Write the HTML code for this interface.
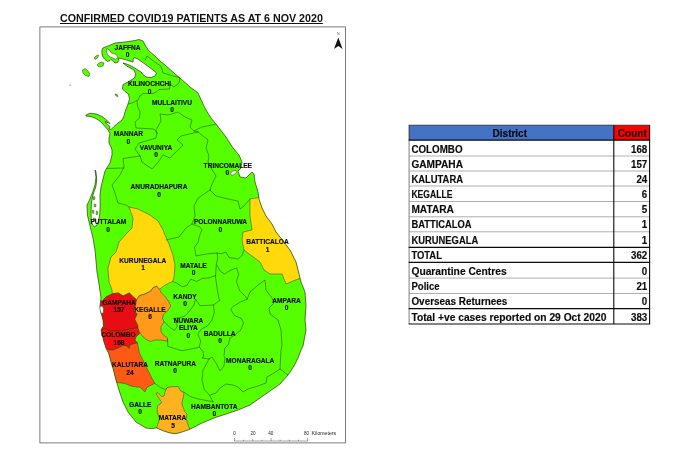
<!DOCTYPE html>
<html><head><meta charset="utf-8"><title>Confirmed COVID19 patients</title>
<style>
html,body{margin:0;padding:0;background:#fff;}
body{width:700px;height:450px;position:relative;overflow:hidden;font-family:"Liberation Sans",sans-serif;}
#title{will-change:transform;position:absolute;left:60px;top:11.5px;font-size:10.7px;font-weight:bold;color:#111;white-space:nowrap;text-decoration:underline;text-decoration-thickness:1px;text-underline-offset:1.2px;line-height:12px;}
</style></head><body>

<svg width="700" height="450" viewBox="0 0 700 450" style="position:absolute;left:0;top:0;will-change:transform">
<defs><clipPath id="land"><path d="M102.8,48 L108,46 L115,43 L125,42 L135,40.5 L139,39.5 L143,41 L145,45 L149,51 L155,56 L160,61 L165,65 L174,73 L180,78 L190,87 L198,93 L203,104 L206,110 L211,118 L216,124 L226,137 L233,148 L239,155 L242,162 L241,168 L238,171 L240,177 L246,178 L250,174 L252,172 L254,174 L255,182 L258,192 L259,199 L262,208 L266,216 L272,224 L276,232 L284,242 L290,250 L296,262 L299,274 L301,282 L305,292 L306,306 L305,320 L306,330 L303,346 L301,350 L298,358 L294,366 L288,375 L280,384 L270,391 L260,398 L250,405 L238,410 L226,414 L214,418 L202,423 L189.9,429.2 L183.4,431.6 L176.1,433.7 L170,433 L163.1,430.8 L156.6,427.9 L151,428.6 L146,428 L136,422 L128,412 L123,402 L119,390 L115.7,379 L112.9,368 L111.5,364 L110,358 L108.5,353 L106,348 L104,342 L102.5,336 L101,330 L103.5,326 L103,320 L102,316 L101,313 L100,306 L101,298 L99,284 L97,272 L95,250 L93,238 L90,226 L87.4,215 L87,205 L90,199 L93,191 L95,185 L96,177 L95,170 L96,172 L96.7,180 L95.8,187 L93.5,193 L91.5,202 L91,212 L91.3,220 L92.5,225 L94.5,226.8 L97,225 L98.5,221 L99.8,214 L100.2,205 L100,195 L101,187 L103,179 L105,171 L110,163 L112,155 L112,150 L111,147 L109,143 L109,138 L110,133.5 L108,130 L105,126.5 L101,122 L96,118.5 L91,116.5 L86,116 L86,115 L90,113.2 L96,114 L102,116.5 L106.5,120 L110,123.5 L105,121.5 L106.5,124 L110,126.5 L109,129 L111,129.5 L114,126.5 L118,123 L122,120 L124,116 L125,112 L126.5,108 L128,104 L129.5,99 L128.5,94 L125,91.5 L122.5,89 L123,84.5 L129,81.5 L134.5,78 L135.8,74 L134,70 L130,68 L126,65.5 L123,63 L128,64.5 L133,67 L137,69.5 L141,72 L143,74.5 L146,77 L151,77.5 L155,76 L156.5,73 L153,70 L147,65.5 L141,61.2 L137,58.6 L134,57.6 L133.2,59.5 L133,62 L129,60.8 L125,59.5 L121,58.5 L118.5,58 L118.8,60.5 L117.5,62.5 L115,63 L113.5,61.5 L111,59.5 L110,60.5 L107.5,61.5 L105,59.5 L103,57 L102,54 L101.8,51Z"/></clipPath></defs>
<rect x="39.9" y="26.9" width="305.6" height="416" fill="#fff" stroke="#5a5a5a" stroke-width="0.8"/>
<path d="M102.8,48 L108,46 L115,43 L125,42 L135,40.5 L139,39.5 L143,41 L145,45 L149,51 L155,56 L160,61 L165,65 L174,73 L180,78 L190,87 L198,93 L203,104 L206,110 L211,118 L216,124 L226,137 L233,148 L239,155 L242,162 L241,168 L238,171 L240,177 L246,178 L250,174 L252,172 L254,174 L255,182 L258,192 L259,199 L262,208 L266,216 L272,224 L276,232 L284,242 L290,250 L296,262 L299,274 L301,282 L305,292 L306,306 L305,320 L306,330 L303,346 L301,350 L298,358 L294,366 L288,375 L280,384 L270,391 L260,398 L250,405 L238,410 L226,414 L214,418 L202,423 L189.9,429.2 L183.4,431.6 L176.1,433.7 L170,433 L163.1,430.8 L156.6,427.9 L151,428.6 L146,428 L136,422 L128,412 L123,402 L119,390 L115.7,379 L112.9,368 L111.5,364 L110,358 L108.5,353 L106,348 L104,342 L102.5,336 L101,330 L103.5,326 L103,320 L102,316 L101,313 L100,306 L101,298 L99,284 L97,272 L95,250 L93,238 L90,226 L87.4,215 L87,205 L90,199 L93,191 L95,185 L96,177 L95,170 L96,172 L96.7,180 L95.8,187 L93.5,193 L91.5,202 L91,212 L91.3,220 L92.5,225 L94.5,226.8 L97,225 L98.5,221 L99.8,214 L100.2,205 L100,195 L101,187 L103,179 L105,171 L110,163 L112,155 L112,150 L111,147 L109,143 L109,138 L110,133.5 L108,130 L105,126.5 L101,122 L96,118.5 L91,116.5 L86,116 L86,115 L90,113.2 L96,114 L102,116.5 L106.5,120 L110,123.5 L105,121.5 L106.5,124 L110,126.5 L109,129 L111,129.5 L114,126.5 L118,123 L122,120 L124,116 L125,112 L126.5,108 L128,104 L129.5,99 L128.5,94 L125,91.5 L122.5,89 L123,84.5 L129,81.5 L134.5,78 L135.8,74 L134,70 L130,68 L126,65.5 L123,63 L128,64.5 L133,67 L137,69.5 L141,72 L143,74.5 L146,77 L151,77.5 L155,76 L156.5,73 L153,70 L147,65.5 L141,61.2 L137,58.6 L134,57.6 L133.2,59.5 L133,62 L129,60.8 L125,59.5 L121,58.5 L118.5,58 L118.8,60.5 L117.5,62.5 L115,63 L113.5,61.5 L111,59.5 L110,60.5 L107.5,61.5 L105,59.5 L103,57 L102,54 L101.8,51Z" fill="#55ff00"/>
<g clip-path="url(#land)">
<path d="M129,207 L138,209 L150,215 L158,221 L163,230 L165,235 L169,244 L172.75,254.5 L175,265 L174.25,275.5 L172.75,281.5 L169.1,283 L164.6,285.4 L159.6,289.2 L156.6,286.3 L153.1,287.7 L150.9,291 L145,294 L139.4,295.7 L136.6,299.8 L133,296.7 L129.3,293 L123.2,296 L118.3,293 L112.2,293.7 L112,290 L109,282 L108,270 L108,268 L111,257 L116,252 L119,242 L127,233 L132,228 L133,218Z" fill="#ffd90a" stroke="#243c08" stroke-width="0.5" stroke-linejoin="round"/>
<path d="M250,199 L262,197 L270,216 L280,230 L292,246 L300,262 L303,278 L298,279 L286,284 L282,274 L270,274 L264,270 L260,262 L252,256 L244,250 L242,240 L243,232 L252,230 L250,216Z" fill="#ffd90a" stroke="#243c08" stroke-width="0.5" stroke-linejoin="round"/>
<path d="M96,301 L102.4,301 L106,296.7 L112.2,293.7 L118.3,293 L123.2,296 L129.3,293 L133,296.7 L136.6,299.8 L135.4,305.9 L133.6,310.8 L137.3,313.8 L134.8,319.3 L137.9,325.4 L138,328 L133,328.5 L128,329.5 L123,330.5 L116,331 L109,330.5 L105,329 L101,330 L96,330Z" fill="#e80c14" stroke="#243c08" stroke-width="0.5" stroke-linejoin="round"/>
<path d="M96,330 L101,330 L105,329 L109,330.5 L116,331 L123,330.5 L128,329.5 L133,328.5 L138,328 L139,331 L140,333 L136,337 L135,340 L137.5,343 L134,343.5 L130,345 L129,348.5 L127,346 L123,345.5 L118,348 L113,350 L109,350 L107.5,349 L98,350Z" fill="#fa1010" stroke="#243c08" stroke-width="0.5" stroke-linejoin="round"/>
<path d="M98,350 L107.5,349 L109,350 L113,350 L118,348 L123,345.5 L127,346 L129,348.5 L130,345 L134,343.5 L137.5,343 L139.4,353 L143.2,360.8 L147.1,368.6 L151,376.4 L154.9,383.4 L147.1,387.3 L144.8,392 L140.1,387.3 L132.4,386.5 L124.6,383.4 L118.3,382.6 L108,382Z" fill="#ff5a14" stroke="#243c08" stroke-width="0.5" stroke-linejoin="round"/>
<path d="M136.6,299.8 L139.4,295.7 L145,294 L150.9,291 L153.1,287.7 L156.6,286.3 L159.6,289.2 L161,292.4 L164.7,296 L168.4,301 L170.8,305.9 L167.8,310.8 L163.5,314.4 L162.3,318 L164.1,321.8 L161,326.6 L161,331.5 L163.5,335.2 L167.2,337.6 L167.8,341.3 L162.3,340.3 L158,340 L155,340 L151,341.5 L147,340 L143,337 L140,333 L139,331 L138,328 L137.9,325.4 L134.8,319.3 L137.3,313.8 L133.6,310.8 L135.4,305.9Z" fill="#ff9a1a" stroke="#243c08" stroke-width="0.5" stroke-linejoin="round"/>
<path d="M155.9,393.5 L158,392.6 L161.7,396.7 L164,396 L165.3,390.9 L167.5,387.3 L173,386.6 L178.3,386.6 L180.5,390.9 L184,392.3 L183.4,396.7 L181.9,403.9 L184.8,411.8 L187,414 L186.2,418.4 L187.7,424.1 L189.9,429.2 L190,440 L156,440 L156.6,427.7 L158.1,423.4 L159.5,418.4 L157.3,412.6 L157.3,406.1 L161.7,402.5 L158.8,398.1Z" fill="#ffb21f" stroke="#243c08" stroke-width="0.5" stroke-linejoin="round"/>
<g fill="none" stroke="#243c08" stroke-width="0.5" stroke-linejoin="round" stroke-linecap="round">
<path d="M145,60 L147,56 L156,63 L161,66 L163,73 L170,75 L180,78"/>
<path d="M180,78 L179,83 L174,87 L170,84 L169.5,89 L159,89.5 L157,91.5 L153,93.5 L143,93.5 L140,96 L138,100 L132,103 L128,104"/>
<path d="M137,101 L137.5,106 L140,112 L139.5,118 L135,122 L136,128 L154,129 L157,133"/>
<path d="M157,133 L156,138 L146,141 L139,143 L135,149 L140,156"/>
<path d="M140,156 L123,158.5 L124,167 L120,175 L112,185 L115,193 L118,203 L126,205 L129,207"/>
<path d="M107,168.5 L124,168"/>
<path d="M140,156 L142,162 L152,169 L159,161 L163,155 L170,158 L183,145 L177,140 L181,136 L198,132"/>
<path d="M157,133 L156,130 L161,121 L160,114 L168,115 L178,112 L185,117 L192,120 L190,127 L194,131 L198,132"/>
<path d="M194,131 L202,127 L212,125 L216,124"/>
<path d="M198,132 L208,140 L206,148 L209,156 L208,162 L211,168 L216,176 L212,184 L210,190"/>
<path d="M210,190 L198,198 L194,206 L195,216 L192,224"/>
<path d="M210,190 L216,196 L228,199 L238,201 L240,209 L244,206 L250,199"/>
<path d="M192,224 L186,228 L179,237 L166,240"/>
<path d="M192,224 L200,227 L202,230 L199.75,235 L198,242.5 L194.5,247 L196,256 L203.5,254.5 L208,253.75 L217,253 L221.5,253.75 L226,252 L229,257.5 L238,259 L241.75,256 L244,250"/>
<path d="M217,253 L217.75,257.5 L216.25,265 L215.5,277 L217,287.5 L218.5,296 L219.5,300.5"/>
<path d="M172.75,281.5 L176.5,283 L182.5,286.75 L187,285.25 L190.75,279.25 L196.75,281.5 L202,278.5 L209.5,277.75 L215.5,275.5"/>
<path d="M217,265 L220,271 L224.5,274 L230.5,270.25 L236.5,268 L238.75,274 L236.5,281.5 L239.5,290.5 L245.5,296.5 L247.25,299"/>
<path d="M247.25,299 L240.5,302 L233,306.5 L230.75,309.5 L234.5,315.5 L241.25,318.5 L243.5,323 L240.5,330.5 L234.5,335 L230,338 L228.5,344 L224.75,348.5 L224,356 L225,358 L224,366 L220,371 L216,363 L212,357 L209,359"/>
<path d="M247.25,299 L250,292 L258,285 L265,280 L266,290 L272,298 L274,303 L269,308 L270,314 L278,320 L281,330 L282,346 L281,350 L280,369 L288,375"/>
<path d="M280,369 L274,373 L267,377 L266,383 L258,386 L248,389 L243,392 L238,387 L233,385 L226,384 L220,388 L216,393 L210,395"/>
<path d="M209,359 L203,370 L202,380 L204.3,389.5 L209.4,395.2 L213,401.7"/>
<path d="M213,401.7 L205,400.3 L197.8,398.8 L190.6,396.7 L184,392.3"/>
<path d="M167.5,387.3 L165.3,389.5 L160.2,387.3 L154.9,383.4"/>
<path d="M219.5,300.5 L213.5,305 L200,305.75 L195.5,299 L194,305 L189.5,311 L185,316 L179,317.75 L173,318.5 L174.5,320 L177.5,326 L174.5,330.5 L170,327.5 L164.1,321.8"/>
<path d="M213.5,305 L214.25,312.5 L212,320 L207.5,326 L201.5,329 L197.75,334.25 L200.75,341 L199.25,347 L203,351.5 L203.75,356.75 L202,358 L209,359"/>
<path d="M167.5,339 L167.75,346.25 L174.5,348.5 L182,350.75 L189.5,349.25 L197,347.75 L199.25,347"/>
</g></g>
<path d="M102.8,48 L108,46 L115,43 L125,42 L135,40.5 L139,39.5 L143,41 L145,45 L149,51 L155,56 L160,61 L165,65 L174,73 L180,78 L190,87 L198,93 L203,104 L206,110 L211,118 L216,124 L226,137 L233,148 L239,155 L242,162 L241,168 L238,171 L240,177 L246,178 L250,174 L252,172 L254,174 L255,182 L258,192 L259,199 L262,208 L266,216 L272,224 L276,232 L284,242 L290,250 L296,262 L299,274 L301,282 L305,292 L306,306 L305,320 L306,330 L303,346 L301,350 L298,358 L294,366 L288,375 L280,384 L270,391 L260,398 L250,405 L238,410 L226,414 L214,418 L202,423 L189.9,429.2 L183.4,431.6 L176.1,433.7 L170,433 L163.1,430.8 L156.6,427.9 L151,428.6 L146,428 L136,422 L128,412 L123,402 L119,390 L115.7,379 L112.9,368 L111.5,364 L110,358 L108.5,353 L106,348 L104,342 L102.5,336 L101,330 L103.5,326 L103,320 L102,316 L101,313 L100,306 L101,298 L99,284 L97,272 L95,250 L93,238 L90,226 L87.4,215 L87,205 L90,199 L93,191 L95,185 L96,177 L95,170 L96,172 L96.7,180 L95.8,187 L93.5,193 L91.5,202 L91,212 L91.3,220 L92.5,225 L94.5,226.8 L97,225 L98.5,221 L99.8,214 L100.2,205 L100,195 L101,187 L103,179 L105,171 L110,163 L112,155 L112,150 L111,147 L109,143 L109,138 L110,133.5 L108,130 L105,126.5 L101,122 L96,118.5 L91,116.5 L86,116 L86,115 L90,113.2 L96,114 L102,116.5 L106.5,120 L110,123.5 L105,121.5 L106.5,124 L110,126.5 L109,129 L111,129.5 L114,126.5 L118,123 L122,120 L124,116 L125,112 L126.5,108 L128,104 L129.5,99 L128.5,94 L125,91.5 L122.5,89 L123,84.5 L129,81.5 L134.5,78 L135.8,74 L134,70 L130,68 L126,65.5 L123,63 L128,64.5 L133,67 L137,69.5 L141,72 L143,74.5 L146,77 L151,77.5 L155,76 L156.5,73 L153,70 L147,65.5 L141,61.2 L137,58.6 L134,57.6 L133.2,59.5 L133,62 L129,60.8 L125,59.5 L121,58.5 L118.5,58 L118.8,60.5 L117.5,62.5 L115,63 L113.5,61.5 L111,59.5 L110,60.5 L107.5,61.5 L105,59.5 L103,57 L102,54 L101.8,51Z" fill="none" stroke="#243c08" stroke-width="0.7" stroke-linejoin="round"/>
<path d="M99.8,306.5 L102.5,306 L103.6,309 L103.3,313 L101.2,313.5 L100.2,310Z" fill="#fff" stroke="#243c08" stroke-width="0.5"/>
<path d="M230.5,173.5 L232.5,171 L236,170.5 L237,172 L234,174.5 L231.5,175.5Z" fill="#fff" stroke="#243c08" stroke-width="0.5"/>
<path d="M106.9,48.6 L109.8,50.2 L111.3,53 L113.8,53.8 L116.6,54.6 L117.6,57.6 L115.6,59.6 L112.8,58 L110.2,57 L108,54.8 L106.4,52Z" fill="#fff" stroke="#243c08" stroke-width="0.5"/>
<path d="M93.2,197 L94.6,196.5 L95,199 L93.6,200Z" fill="#55ff00" stroke="#243c08" stroke-width="0.5"/>
<path d="M94.2,204 L96,204.5 L95.6,207 L94,206.5Z" fill="#55ff00" stroke="#243c08" stroke-width="0.5"/>
<path d="M92.4,210 L93.8,210.5 L93.6,213.5 L92.2,213Z" fill="#55ff00" stroke="#243c08" stroke-width="0.5"/>
<path d="M96.5,211 L98,212 L97.2,215 L96,214Z" fill="#55ff00" stroke="#243c08" stroke-width="0.5"/>
<path d="M93.5,218 L95.5,218.5 L95,221 L93.4,220.5Z" fill="#55ff00" stroke="#243c08" stroke-width="0.5"/>
<path d="M82.5,70 L85,68.5 L88,71 L90,74 L89,76.5 L85.5,75.5 L83,73Z" fill="#55ff00" stroke="#243c08" stroke-width="0.5"/>
<path d="M97,65 L99,63 L102,62 L104,63 L103,66 L99,67Z" fill="#55ff00" stroke="#243c08" stroke-width="0.5"/>
<path d="M94,58 L96,56 L98.5,55 L98,57.5 L95,59.5Z" fill="#55ff00" stroke="#243c08" stroke-width="0.5"/>
<path d="M115,94 L117,94.5 L118,96.5 L116,96Z" fill="#55ff00" stroke="#243c08" stroke-width="0.5"/>
<circle cx="70" cy="85" r="0.6" fill="#333"/>
<g font-family="Liberation Sans, sans-serif" font-weight="bold" font-size="6.6" fill="#0a0a0a" stroke="#0a0a0a" stroke-width="0.12" text-anchor="middle">
<text x="127.6" y="50.05">JAFFNA</text>
<text x="127.6" y="57.25">0</text>
<text x="149.5" y="86.45">KILINOCHCHI</text>
<text x="149.6" y="93.65">0</text>
<text x="172" y="105.05">MULLAITIVU</text>
<text x="172" y="112.25">0</text>
<text x="128.4" y="136.45">MANNAR</text>
<text x="128.4" y="143.65">0</text>
<text x="156" y="150.05">VAVUNIYA</text>
<text x="156" y="156.85">0</text>
<text x="227.8" y="167.75">TRINCOMALEE</text>
<text x="227.4" y="174.85">0</text>
<text x="159" y="189.45">ANURADHAPURA</text>
<text x="159.2" y="196.75">0</text>
<text x="108.3" y="224.45">PUTTALAM</text>
<text x="108" y="231.65">0</text>
<text x="220.5" y="224.45">POLONNARUWA</text>
<text x="220.4" y="232.25">0</text>
<text x="267.5" y="243.95">BATTICALOA</text>
<text x="267.6" y="251.65">1</text>
<text x="142.8" y="262.95">KURUNEGALA</text>
<text x="143" y="269.85">1</text>
<text x="193.5" y="268.05">MATALE</text>
<text x="193.6" y="275.25">0</text>
<text x="185" y="298.95">KANDY</text>
<text x="185" y="306.25">0</text>
<text x="286.5" y="302.95">AMPARA</text>
<text x="286.6" y="309.65">0</text>
<text x="119" y="305.05">GAMPAHA</text>
<text x="119" y="312.25">157</text>
<text x="150" y="311.95">KEGALLE</text>
<text x="150" y="319.25">6</text>
<text x="188.5" y="323.05">NUWARA</text>
<text x="188.3" y="330.45">ELIYA</text>
<text x="188.4" y="337.65">0</text>
<text x="219.7" y="335.55">BADULLA</text>
<text x="220" y="342.65">0</text>
<text x="118.5" y="337.45">COLOMBO</text>
<text x="119" y="344.65">168</text>
<text x="250.2" y="362.95">MONARAGALA</text>
<text x="250" y="370.25">0</text>
<text x="130" y="367.45">KALUTARA</text>
<text x="130" y="374.65">24</text>
<text x="175.3" y="366.05">RATNAPURA</text>
<text x="175" y="373.25">0</text>
<text x="140.2" y="406.95">GALLE</text>
<text x="140" y="414.25">0</text>
<text x="214.2" y="408.55">HAMBANTOTA</text>
<text x="214.4" y="416.25">0</text>
<text x="172.6" y="420.45">MATARA</text>
<text x="173" y="427.85">5</text>
</g>
<path d="M338.3,37.4 L342.6,48.9 L338.3,46 L334,48.9 Z" fill="#111"/>
<text x="338.3" y="34.5" font-family="Liberation Sans, sans-serif" font-size="3.5" fill="#555" text-anchor="middle">N</text>
<path d="M234.5,441 L307.6,441 M234.5,441 L234.5,438 M243.637,441 L243.637,439.7 M252.775,441 L252.775,439 M261.913,441 L261.913,439.7 M271.05,441 L271.05,438 M280.188,441 L280.188,439.7 M289.325,441 L289.325,439.7 M298.463,441 L298.463,439.7 M307.6,441 L307.6,438" stroke="#444" stroke-width="0.5" fill="none"/>
<g font-family="Liberation Sans, sans-serif" font-size="4.6" fill="#222">
<text x="234.6" y="435" text-anchor="middle">0</text>
<text x="253" y="435" text-anchor="middle">20</text>
<text x="270.8" y="435" text-anchor="middle">40</text>
<text x="306.6" y="435" text-anchor="middle">80</text>
<text x="311.6" y="435" textLength="24.6" lengthAdjust="spacingAndGlyphs">Kilometers</text>
</g>
<rect x="409.1" y="125.2" width="204.7" height="14.95" fill="#4472c4"/>
<rect x="613.8" y="125.2" width="35.8" height="14.95" fill="#ff0000"/>
<path d="M409.1,156.00 H649.6" stroke="#a6a6a6" stroke-width="0.9"/>
<path d="M409.1,171.00 H649.6" stroke="#a6a6a6" stroke-width="0.9"/>
<path d="M409.1,186.00 H649.6" stroke="#a6a6a6" stroke-width="0.9"/>
<path d="M409.1,201.50 H649.6" stroke="#a6a6a6" stroke-width="0.9"/>
<path d="M409.1,216.80 H649.6" stroke="#a6a6a6" stroke-width="0.9"/>
<path d="M409.1,231.80 H649.6" stroke="#a6a6a6" stroke-width="0.9"/>
<path d="M409.1,278.10 H649.6" stroke="#a6a6a6" stroke-width="0.9"/>
<path d="M409.1,293.50 H649.6" stroke="#a6a6a6" stroke-width="0.9"/>
<path d="M409.1,140.15 V324.00" stroke="#7f7f7f" stroke-width="1"/>
<path d="M409.1,125.2 V140.15" stroke="#1a1a1a" stroke-width="0.8"/>
<path d="M408.70000000000005,125.2 H650.1" stroke="#1a1a1a" stroke-width="0.7"/>
<path d="M408.70000000000005,140.10 H650.1" stroke="#0a0a0a" stroke-width="1.2"/>
<path d="M408.70000000000005,247.30 H650.1" stroke="#0a0a0a" stroke-width="1.2"/>
<path d="M408.70000000000005,262.40 H650.1" stroke="#0a0a0a" stroke-width="1.2"/>
<path d="M408.70000000000005,308.70 H650.1" stroke="#0a0a0a" stroke-width="1.2"/>
<path d="M408.70000000000005,324.00 H650.1" stroke="#0a0a0a" stroke-width="1.2"/>
<path d="M613.8,125.2 V324.00" stroke="#0a0a0a" stroke-width="1.1"/>
<path d="M649.6,125.2 V324.00" stroke="#0a0a0a" stroke-width="1.1"/>
<g font-family="Liberation Sans, sans-serif" font-weight="bold" font-size="10.3" fill="#0a0a0a" stroke="#0a0a0a" stroke-width="0.15">
<text x="509.8" y="137" text-anchor="middle" textLength="34.4" lengthAdjust="spacingAndGlyphs">District</text>
<text x="632.3" y="137" text-anchor="middle" textLength="28.9" lengthAdjust="spacingAndGlyphs">Count</text>
<text x="411.4" y="152.50" textLength="51.2" lengthAdjust="spacingAndGlyphs">COLOMBO</text>
<text x="647.3" y="152.50" text-anchor="end" textLength="16.35" lengthAdjust="spacingAndGlyphs">168</text>
<text x="411.4" y="167.50" textLength="51.6" lengthAdjust="spacingAndGlyphs">GAMPAHA</text>
<text x="647.3" y="167.50" text-anchor="end" textLength="16.35" lengthAdjust="spacingAndGlyphs">157</text>
<text x="411.4" y="182.50" textLength="51.6" lengthAdjust="spacingAndGlyphs">KALUTARA</text>
<text x="647.3" y="182.50" text-anchor="end" textLength="10.90" lengthAdjust="spacingAndGlyphs">24</text>
<text x="411.4" y="198.00" textLength="41.0" lengthAdjust="spacingAndGlyphs">KEGALLE</text>
<text x="647.3" y="198.00" text-anchor="end" textLength="5.45" lengthAdjust="spacingAndGlyphs">6</text>
<text x="411.4" y="213.30" textLength="42.5" lengthAdjust="spacingAndGlyphs">MATARA</text>
<text x="647.3" y="213.30" text-anchor="end" textLength="5.45" lengthAdjust="spacingAndGlyphs">5</text>
<text x="411.4" y="228.30" textLength="60.2" lengthAdjust="spacingAndGlyphs">BATTICALOA</text>
<text x="647.3" y="228.30" text-anchor="end" textLength="5.45" lengthAdjust="spacingAndGlyphs">1</text>
<text x="411.4" y="243.80" textLength="66.8" lengthAdjust="spacingAndGlyphs">KURUNEGALA</text>
<text x="647.3" y="243.80" text-anchor="end" textLength="5.45" lengthAdjust="spacingAndGlyphs">1</text>
<text x="411.4" y="258.90" textLength="30.5" lengthAdjust="spacingAndGlyphs">TOTAL</text>
<text x="647.3" y="258.90" text-anchor="end" textLength="16.35" lengthAdjust="spacingAndGlyphs">362</text>
<text x="411.4" y="274.60" textLength="95.3" lengthAdjust="spacingAndGlyphs">Quarantine Centres</text>
<text x="647.3" y="274.60" text-anchor="end" textLength="5.45" lengthAdjust="spacingAndGlyphs">0</text>
<text x="411.4" y="290.00" textLength="28.3" lengthAdjust="spacingAndGlyphs">Police</text>
<text x="647.3" y="290.00" text-anchor="end" textLength="10.90" lengthAdjust="spacingAndGlyphs">21</text>
<text x="411.4" y="305.20" textLength="96.0" lengthAdjust="spacingAndGlyphs">Overseas Returnees</text>
<text x="647.3" y="305.20" text-anchor="end" textLength="5.45" lengthAdjust="spacingAndGlyphs">0</text>
<text x="411.4" y="320.50" textLength="195.0" lengthAdjust="spacingAndGlyphs">Total +ve cases reported on 29 Oct 2020</text>
<text x="647.3" y="320.50" text-anchor="end" textLength="16.35" lengthAdjust="spacingAndGlyphs">383</text>
</g>
</svg>
<div id="title">CONFIRMED COVID19 PATIENTS AS AT 6 NOV 2020</div>
</body></html>
